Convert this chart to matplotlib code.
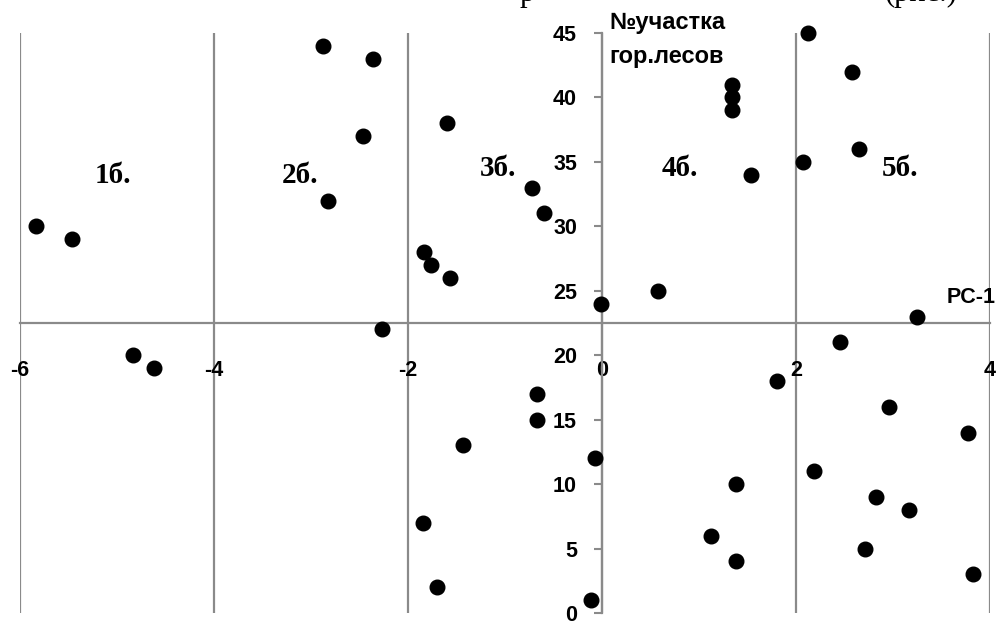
import matplotlib.pyplot as plt

plt.rcParams['axes.unicode_minus'] = False

# PC-1 score (x) and forest plot number (y)
pc1 = [-5.84, -5.46, -4.84, -4.62, -2.88, -2.36, -2.46, -2.82, -2.27, -1.60,
       -1.83, -1.76, -1.57, -0.72, -0.60, -0.01, 0.58, 1.34, 1.34, 1.34,
       1.54, 2.12, 2.58, 2.07, 2.65, 3.25, 2.45, 1.80, 2.96, 3.77,
       2.19, 2.82, 3.16, 2.71, 3.82, 1.38, 1.12, 1.38, -0.67, -0.67,
       -1.43, -0.07, -1.85, -1.70, -0.11]
plot_no = [30, 29, 20, 19, 44, 43, 37, 32, 22, 38,
           28, 27, 26, 33, 31, 24, 25, 41, 40, 39,
           34, 45, 42, 35, 36, 23, 21, 18, 16, 14,
           11, 9, 8, 5, 3, 10, 6, 4, 17, 15,
           13, 12, 7, 2, 1]

x_ticks = [-6, -4, -2, 0, 2, 4]
y_ticks = list(range(0, 50, 5))
group_labels = ['1б.', '2б.', '3б.', '4б.', '5б.']
group_x = [-5.04, -3.11, -1.07, 0.80, 3.07]
group_y = [33.4, 33.4, 33.9, 33.9, 33.9]

grey = '#8a8a8a'

fig = plt.figure(figsize=(10.05, 6.22), dpi=100)
ax = fig.add_axes([20 / 1005, 1 - 613 / 622, 970 / 1005, 580 / 622])
ax.set_xlim(-6, 4)
ax.set_ylim(0, 45)

for s in ['top', 'right']:
    ax.spines[s].set_visible(False)
ax.spines['left'].set_position(('data', 0))
ax.spines['bottom'].set_position(('data', 22.5))
for s in ['left', 'bottom']:
    ax.spines[s].set_color(grey)
    ax.spines[s].set_linewidth(1.6)

ax.set_xticks(x_ticks)
ax.set_xticklabels([str(v) for v in x_ticks])
ax.set_yticks(y_ticks)
ax.set_yticklabels([str(v) for v in y_ticks])
ax.tick_params(axis='x', length=0, pad=27, labelsize=15.5)
ax.tick_params(axis='y', direction='out', length=6, width=1.5, color=grey,
               pad=12, labelsize=15.5)
for lab in ax.get_xticklabels() + ax.get_yticklabels():
    lab.set_fontweight('bold')
    lab.set_fontfamily('Liberation Sans')

ax.grid(axis='x', color=grey, linewidth=1.6)
ax.set_axisbelow(True)

ax.plot(pc1, plot_no, 'o', color='black', markersize=10.5, linestyle='none',
        clip_on=False, zorder=5)

for lab, gx, gy in zip(group_labels, group_x, group_y):
    ax.text(gx, gy, lab, ha='center', va='baseline', fontsize=21,
            fontweight='bold', family='Liberation Serif')

ax.text(3.55, 24.5, 'PC-1', ha='left', va='center', fontsize=15.5,
        fontweight='bold', family='Liberation Sans', clip_on=False)
ax.text(0.08, 45.3, '№участка', ha='left', va='baseline', fontsize=17,
        fontweight='bold', family='Liberation Sans', clip_on=False)
ax.text(0.08, 42.7, 'гор.лесов', ha='left', va='baseline', fontsize=17,
        fontweight='bold', family='Liberation Sans')

# fragment of the page caption cut off at the top edge
fig.text(520 / 1005, 1 - 1 / 622, 'р', ha='left', va='baseline', fontsize=22,
         family='Liberation Serif')
fig.text(885 / 1005, 1 - 1 / 622, '(рис.)', ha='left', va='baseline',
         fontsize=22, family='Liberation Serif')

fig.savefig('out.png', dpi=100)
